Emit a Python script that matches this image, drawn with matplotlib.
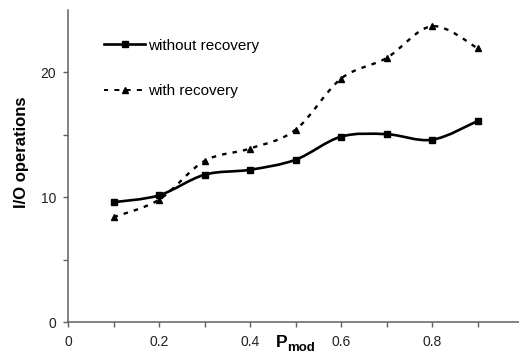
import numpy as np
import matplotlib.pyplot as plt
from matplotlib.path import Path
from matplotlib.patches import PathPatch
from matplotlib.lines import Line2D

plt.rcParams['font.family'] = ['Liberation Sans', 'DejaVu Sans']

# data
p_mod = [0.1, 0.2, 0.3, 0.4, 0.5, 0.6, 0.7, 0.8, 0.9]
io_without = [9.6, 10.15, 11.8, 12.2, 13.0, 14.85, 15.05, 14.6, 16.1]
io_with = [8.4, 9.8, 12.9, 13.9, 15.4, 19.5, 21.15, 23.7, 21.95]
series_names = ['without recovery', 'with recovery']
x_ticklabels = ['0', '', '0.2', '', '0.4', '', '0.6', '', '0.8', '', '']
y_ticklabels = ['0', '', '10', '', '20']


def smooth_path(xs, ys):
    # excel-style smoothed line as cubic bezier segments
    pts = np.column_stack([xs, ys]).astype(float)
    n = len(pts)
    verts = [pts[0]]
    codes = [Path.MOVETO]
    for i in range(n - 1):
        p0 = pts[max(i - 1, 0)]
        p1 = pts[i]
        p2 = pts[i + 1]
        p3 = pts[min(i + 2, n - 1)]
        verts += [p1 + (p2 - p0) / 6, p2 - (p3 - p1) / 6, p2]
        codes += [Path.CURVE4] * 3
    return Path(verts, codes)


W, H = 519, 356
fig = plt.figure(figsize=(W / 100, H / 100), dpi=100)
ax = fig.add_axes([68 / W, 34 / H, 455 / W, 312 / H])

dash = (0, (1.9, 2.6))
ax.add_patch(PathPatch(smooth_path(p_mod, io_without), fill=False,
                       lw=1.9, color='black', clip_on=False))
ax.add_patch(PathPatch(smooth_path(p_mod, io_with), fill=False,
                       lw=1.7, color='black', linestyle=dash, clip_on=False))
ax.plot(p_mod, io_without, ls='none', marker='s', ms=4.5, color='black', clip_on=False)
ax.plot(p_mod, io_with, ls='none', marker='^', ms=5, color='black', clip_on=False)

ax.set_xlim(0, 1.0)
ax.set_ylim(0, 25)
ax.set_xticks(np.arange(0, 1.01, 0.1))
ax.set_xticklabels(x_ticklabels)
ax.set_yticks([0, 5, 10, 15, 20])
ax.set_yticklabels(y_ticklabels)

for side in ['top', 'right']:
    ax.spines[side].set_visible(False)
for side in ['left', 'bottom']:
    ax.spines[side].set_color('#606060')
    ax.spines[side].set_linewidth(1.1)
ax.tick_params(axis='both', direction='out', length=3.5, width=1.0,
               color='#606060', labelsize=10, labelcolor='#222222')
ax.tick_params(axis='x', pad=6)
ax.tick_params(axis='y', pad=5)

ax.set_ylabel('I/O operations', fontsize=12, fontweight='bold')
ax.yaxis.set_label_coords(-0.086, 0.545)

# x label: P with subscript "mod"
ax.text(0.457, -0.080, 'P', transform=ax.transAxes, ha='left', va='baseline',
        fontsize=12.5, fontweight='bold')
ax.text(0.481, -0.093, 'mod', transform=ax.transAxes, ha='left', va='baseline',
        fontsize=9.5, fontweight='bold')

handles = [
    Line2D([], [], color='black', lw=1.9, marker='s', ms=4.5),
    Line2D([], [], color='black', lw=1.4, linestyle=(0.5, (2.6, 3.2)), marker='^', ms=5),
]
ax.legend(handles, series_names, loc='upper left', bbox_to_anchor=(0.079, 0.908),
          frameon=False, fontsize=11, handlelength=2.7, handletextpad=0.2,
          labelspacing=2.05, borderpad=0, borderaxespad=0, numpoints=1)

fig.savefig('out.png', dpi=100)
